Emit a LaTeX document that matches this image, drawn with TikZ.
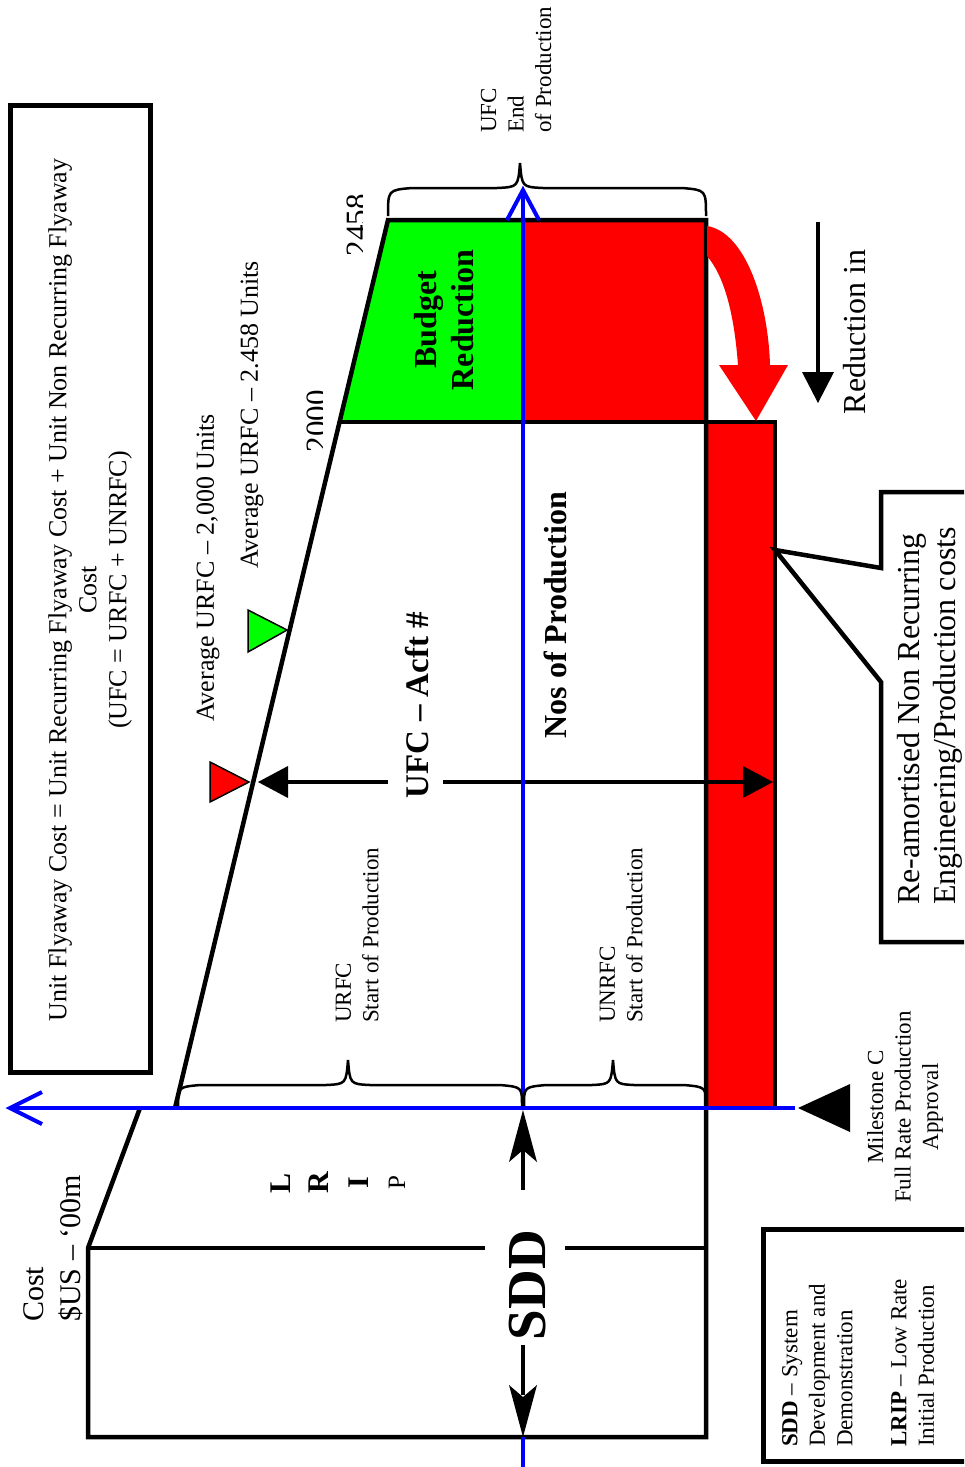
\documentclass[tikz,border=0pt]{standalone}
\usepackage{fontspec}
\setmainfont{Liberation Serif}
\definecolor{rd}{RGB}{255,0,0}
\definecolor{gr}{RGB}{0,255,0}
\definecolor{axisblue}{RGB}{0,0,255}
\begin{document}
\begin{tikzpicture}[x=1pt,y=-1pt,
  outline/.style={line width=4.5pt, line join=miter},
  axis/.style={draw=axisblue, line width=4pt},
  brace/.style={line width=2.5pt},
  rt/.style={rotate=90, inner sep=0pt},
  f23/.style={font=\fontsize{23}{27.5}\selectfont},
  f26/.style={font=\fontsize{26}{30}\selectfont},
  f30/.style={font=\fontsize{30}{37}\selectfont},
  f32/.style={font=\fontsize{32}{35.5}\selectfont},
  b32/.style={font=\fontsize{32}{37}\selectfont\bfseries},
  b33/.style={font=\fontsize{33}{38}\selectfont\bfseries},
  b55/.style={font=\fontsize{55}{60}\selectfont\bfseries}]

\useasboundingbox (0,0) rectangle (964,1467);
\clip (0,0) rectangle (964,1467);
\fill[white] (0,0) rectangle (964,1467);

% definition box
\draw[line width=5pt] (10,105) rectangle (150,1072);
\node[rt,f26,align=center] (defn) at (90,590)
  {Unit Flyaway Cost = Unit Recurring Flyaway Cost + Unit Non Recurring Flyaway\\Cost\\(UFC = URFC + UNRFC)};

% coloured areas
\fill[gr] (388,220) -- (523,220) -- (523,422) -- (340,422) -- cycle;
\fill[rd] (523,220) rectangle (706,422);
\filldraw[fill=rd, outline] (706,422) rectangle (775,1108);

% cost outline
\draw[outline] (175,1108) -- (388,220) -- (706,220) -- (706,1437) -- (88,1437) -- (88,1248) -- (140,1108);
\draw[outline] (340,422) -- (706,422);
\draw[outline] (88,1248) -- (485,1248);
\draw[outline] (565,1248) -- (706,1248);

% re-amortised cost arrow
\fill[rd] (707,226) .. controls (745,232) and (768,300) .. (770,365) -- (788,365) -- (756,421)
  -- (719,365) -- (738,365) .. controls (734,312) and (724,276) .. (707,256) -- cycle;

% reduction arrow
\draw[line width=4pt] (818,222) -- (818,376);
\fill (802,372) -- (834,372) -- (818,403) -- cycle;

% UFC double arrow
\draw[line width=4pt] (285,782) -- (388,782);
\draw[line width=4pt] (443,782) -- (746,782);
\fill (258,782) -- (288,766) -- (288,798) -- cycle;
\fill (773,782) -- (743,766) -- (743,798) -- cycle;

% axes
\draw[axis] (10,1108) -- (795,1108);
\draw[axis] (523,1108) -- (523,190);
\draw[axis] (523,1467) -- (523,1437);
\draw[axis] (42,1092) -- (10,1108) -- (42,1124);
\draw[axis] (507,220) -- (523,190) -- (539,220);

% SDD span arrows
\draw[line width=4pt] (523,1150) -- (523,1190);
\fill (523,1110) -- (537,1162) -- (523,1150) -- (509,1162) -- cycle;
\draw[line width=4pt] (523,1345) -- (523,1395);
\fill (523,1437) -- (537,1385) -- (523,1397) -- (509,1385) -- cycle;

% braces
\draw[brace] (388,216) .. controls (388,190) .. (412,188) -- (497,188)
  .. controls (518,187) .. (520,163) .. controls (522,187) .. (543,188) -- (682,188)
  .. controls (706,190) .. (706,216);
\draw[brace] (178,1106) .. controls (178,1087) .. (200,1085) -- (326,1085)
  .. controls (346,1084) .. (348,1060) .. controls (350,1084) .. (370,1085) -- (500,1085)
  .. controls (522,1087) .. (522,1106);
\draw[brace] (524,1106) .. controls (524,1087) .. (546,1085) -- (592,1085)
  .. controls (611,1084) .. (613,1060) .. controls (615,1084) .. (634,1085) -- (684,1085)
  .. controls (706,1087) .. (706,1106);

% average markers
\filldraw[fill=rd, line width=1.5pt] (210,762) -- (210,802) -- (249,782) -- cycle;
\filldraw[fill=gr, line width=1.5pt] (248,610) -- (248,652) -- (287,630) -- cycle;

% milestone marker
\fill (798,1108) -- (850,1084) -- (850,1132) -- cycle;

% callout
\filldraw[fill=white, line width=4.5pt, line join=miter]
  (990,492) -- (881,492) -- (881,568) -- (775,550) -- (881,682) -- (881,942) -- (990,942);

% legend box
\draw[line width=5pt] (763,1229) rectangle (990,1461);

% labels
\node[rt,f26] (avg2000) at (208,568) {Average URFC -- 2,000 Units};
\node[rt,f26] (avg2458) at (252,415) {Average URFC -- 2.458 Units};
\begin{scope}
  \clip (290,380) rectangle (322,470);
  \node[rt,font=\fontsize{31}{31}\selectfont] (q2000) at (317,421) {2000};
\end{scope}
\begin{scope}
  \clip (330,180) rectangle (362,270);
  \node[rt,font=\fontsize{31}{31}\selectfont] (q2458) at (357,225) {2458};
\end{scope}
\node[rt,f23,align=left,anchor=west] (endprod) at (516,133) {UFC\\End\\of Production};
\node[rt,f23,align=left,anchor=west] (urfc) at (357,1023) {URFC\\Start of Production};
\node[rt,f23,align=left,anchor=west] (unrfc) at (621,1023) {UNRFC\\Start of Production};
\node[rt,b33] (ufcacft) at (417,705) {UFC -- Acft \#};
\node[rt,b32] (nos) at (555,615) {Nos of Production};
\node[rt,b32,align=center] (budget) at (444,320) {Budget\\Reduction};
\node[rt,b55] (sdd) at (528,1285) {SDD};
\node[rt,font=\fontsize{30}{30}\selectfont\bfseries] (lL) at (281,1183) {L};
\node[rt,font=\fontsize{30}{30}\selectfont\bfseries] (lR) at (319,1183) {R};
\node[rt,font=\fontsize{30}{30}\selectfont\bfseries] (lI) at (359,1183) {I};
\node[rt,font=\fontsize{25}{25}\selectfont] (lP) at (397,1183) {P};
\node[rt,f30,align=left,anchor=west] (costunit) at (53,1322) {Cost\\\$US -- ‘00m};
\node[rt,f23,align=center] (milestone) at (905,1107) {Milestone C\\Full Rate Production\\Approval};
\node[rt,f23,align=left,anchor=west] (legend) at (858,1447)
  {\textbf{SDD} -- System\\Development and\\Demonstration\\[26.5pt]\textbf{LRIP} -- Low Rate\\Initial Production};
\node[rt,f32,align=left,anchor=west] (reamort) at (930,905) {Re-amortised Non Recurring\\Engineering/Production costs};
\node[rt,f32] (reduct) at (855,332) {Reduction in};
\end{tikzpicture}
\end{document}
